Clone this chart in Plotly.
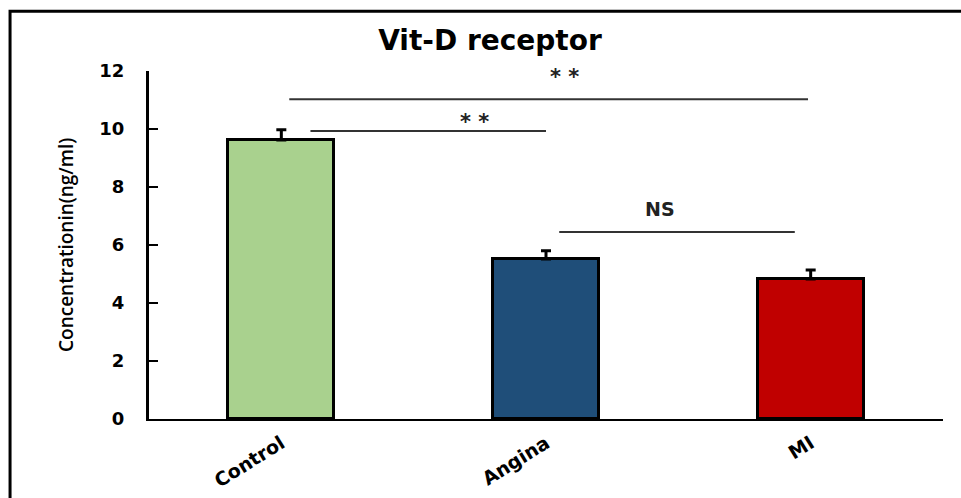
import plotly.graph_objects as go

# Vitamin D receptor concentration by group
groups = ["Control", "Angina", "MI"]
means = [9.62, 5.52, 4.83]
sem = [0.35, 0.28, 0.31]
bar_colors = ["#A9D18E", "#1F4E79", "#C00000"]

# Pairwise comparison brackets: start, end, height, label
cmp_x0 = [0.03, 0.11, 1.05]
cmp_x1 = [1.99, 1.00, 1.94]
cmp_y = [11.03, 9.93, 6.45]
cmp_label = ["* *", "* *", "NS"]
cmp_label_x = [1.068, 0.728, 1.43]
cmp_label_y = [11.79, 10.24, 7.24]

y_ticks = [0, 2, 4, 6, 8, 10, 12]
positions = list(range(len(groups)))

fig = go.Figure()
fig.add_trace(go.Bar(
    x=positions,
    y=means,
    width=0.40,
    marker=dict(color=bar_colors, line=dict(color="black", width=3)),
    error_y=dict(type="data", symmetric=False, array=sem,
                 arrayminus=[0] * len(sem), color="black",
                 thickness=3, width=5),
    showlegend=False,
    hoverinfo="skip",
))

shapes = []
annotations = []
for x0, x1, y, lab, lx, ly in zip(cmp_x0, cmp_x1, cmp_y, cmp_label,
                                  cmp_label_x, cmp_label_y):
    shapes.append(dict(type="line", xref="x", yref="y", x0=x0, x1=x1,
                       y0=y, y1=y, line=dict(color="#333333", width=2)))
    annotations.append(dict(
        x=lx, y=ly, xref="x", yref="y", text=lab, showarrow=False,
        xanchor="center", yanchor="middle",
        font=dict(family="DejaVu Sans", size=21 if lab != "NS" else 19,
                  color="#222222", weight="bold"),
    ))

# Outer frame of the figure
shapes.append(dict(type="rect", xref="paper", yref="paper",
                   x0=-0.175, x1=1.2, y0=-0.4, y1=1.172,
                   line=dict(color="black", width=3), layer="above"))

annotations.append(dict(
    text="Concentrationin(ng/ml)", xref="paper", yref="paper",
    x=(66 - 149) / 794, y=(419 - 245) / 348, textangle=-90,
    showarrow=False, xanchor="center", yanchor="middle",
    font=dict(family="Open Sans", size=19, color="black", weight=600),
))

fig.update_layout(
    width=961, height=498,
    margin=dict(l=149, r=18, t=71, b=79, autoexpand=False),
    paper_bgcolor="white", plot_bgcolor="white",
    title=dict(text="<b>Vit-D receptor</b>", xref="container",
               yref="container", x=490 / 961, y=1 - 40 / 498,
               xanchor="center", yanchor="middle",
               font=dict(family="DejaVu Sans", size=28, color="black")),
    shapes=shapes,
    annotations=annotations,
    bargap=0,
)
fig.update_xaxes(
    range=[-0.5, 2.5], tickvals=positions, ticktext=groups,
    tickangle=-32, ticks="", showgrid=False, zeroline=False,
    showline=True, linecolor="black", linewidth=2, automargin=False,
    tickfont=dict(family="DejaVu Sans", size=19, color="black",
                  weight="bold"),
    ticklabelstandoff=4,
)
fig.update_yaxes(
    range=[0, 12], tickvals=y_ticks, ticks="inside", ticklen=9,
    tickwidth=2, tickcolor="black", showgrid=False, zeroline=False,
    showline=True, linecolor="black", linewidth=3, automargin=False,
    tickfont=dict(family="DejaVu Sans", size=18, color="black",
                  weight="bold"),
    ticklabelstandoff=18,
)

fig.write_html("out.html")
